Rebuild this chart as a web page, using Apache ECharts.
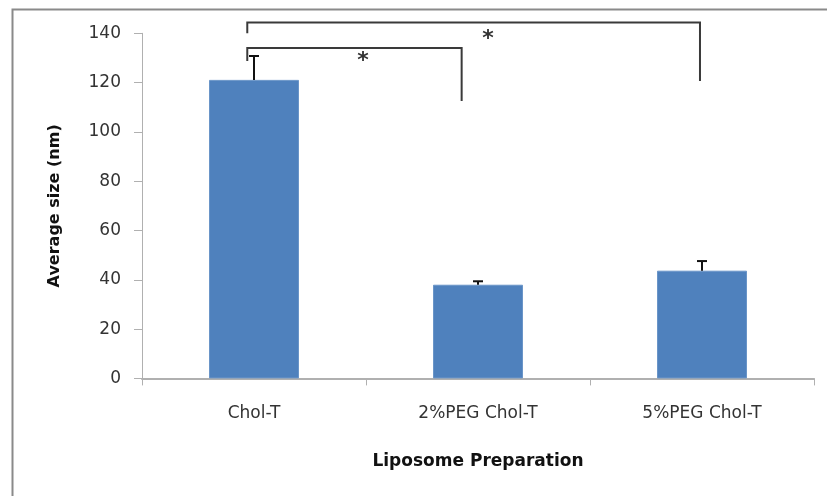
<!DOCTYPE html>
<html>
<head>
<meta charset="utf-8">
<script src="https://cdn.jsdelivr.net/npm/echarts@6/dist/echarts.min.js"></script>
<style>html,body{margin:0;padding:0;background:#fff;}#c{width:827px;height:496px;}</style>
</head>
<body>
<div id="c"></div>
<script>
// ---- data ----
const categories = ['Chol-T', '2%PEG Chol-T', '5%PEG Chol-T'];
const means = [121.1, 38.0, 43.7];
const errors = [9.7, 1.4, 3.9];
const yTicks = [0, 20, 40, 60, 80, 100, 120, 140];
// significance brackets (x in category units, y in nm)
const bracketX1 = [-0.03, -0.03];
const bracketX2 = [0.927, 1.991];
const bracketTop = [134.0, 144.4];
const bracketLeftEnd = [128.8, 140.0];
const bracketRightEnd = [112.5, 120.6];
const starX = [0.487, 1.045];
const starY = [128.5, 137.6];
const starText = ['*', '*'];

const chart = echarts.init(document.getElementById('c'), null, {renderer: 'canvas'});
const font = 'DejaVu Sans';
const option = {
  backgroundColor: '#ffffff',
  animation: false,
  grid: {left: 142, right: 13, top: 33.3, bottom: 117.6, containLabel: false},
  graphic: [{
    type: 'rect', left: 10, top: 7, z: -10,
    shape: {x: 0, y: 0, width: 900, height: 600},
    style: {fill: 'none', stroke: '#8a8a8a', lineWidth: 2}
  }],
  xAxis: [{
    type: 'category', data: categories,
    axisLine: {onZero: false, lineStyle: {color: '#b0b0b0', width: 2}},
    axisTick: {show: true, alignWithLabel: false, interval: 0, length: 7, lineStyle: {color: '#b0b0b0', width: 1}},
    axisLabel: {color: '#333', fontFamily: font, fontSize: 17, margin: 27, interval: 0},
    name: 'Liposome Preparation', nameLocation: 'middle', nameGap: 75,
    nameTextStyle: {color: '#111', fontFamily: font, fontSize: 17, fontWeight: 'bold'}
  }, {
    type: 'value', min: -0.5, max: 2.5, show: false
  }],
  yAxis: {
    type: 'value', min: 0, max: 140, interval: 20,
    axisLine: {show: true, onZero: false, lineStyle: {color: '#b0b0b0', width: 1}},
    axisTick: {show: true, length: 8, lineStyle: {color: '#b0b0b0'}},
    splitLine: {show: false},
    axisLabel: {color: '#333', fontFamily: font, fontSize: 17, margin: 21,
      formatter: v => yTicks.includes(v) ? String(v) : ''},
    name: 'Average size (nm)', nameLocation: 'middle', nameGap: 79,
    nameTextStyle: {color: '#111', fontFamily: font, fontSize: 16, fontWeight: 'bold'}
  },
  series: [{
    type: 'bar', data: means, barWidth: 90,
    itemStyle: {color: '#4f81bd', borderColor: '#6a95c8', borderWidth: 1}
  }, {
    type: 'custom', z: 5,
    data: means.map((m, i) => [i, m, m + errors[i]]),
    renderItem: function (params, api) {
      const p0 = api.coord([api.value(0), api.value(1)]);
      const p1 = api.coord([api.value(0), api.value(2)]);
      return {type: 'group', children: [
        {type: 'line', shape: {x1: p0[0], y1: p0[1], x2: p1[0], y2: p1[1]}, style: {stroke: '#111', lineWidth: 2}},
        {type: 'line', shape: {x1: p1[0] - 5, y1: p1[1], x2: p1[0] + 5, y2: p1[1]}, style: {stroke: '#111', lineWidth: 2}}
      ]};
    }
  }, {
    type: 'custom', xAxisIndex: 1, z: 5,
    data: bracketX1.map((x, i) => [x, bracketX2[i], bracketTop[i], bracketLeftEnd[i], bracketRightEnd[i]]),
    renderItem: function (params, api) {
      const a = api.coord([api.value(0), api.value(3)]);
      const b = api.coord([api.value(0), api.value(2)]);
      const c = api.coord([api.value(1), api.value(2)]);
      const d = api.coord([api.value(1), api.value(4)]);
      return {type: 'polyline', shape: {points: [a, b, c, d]},
        style: {stroke: '#3a3a3a', lineWidth: 2, fill: 'none'}};
    }
  }, {
    type: 'custom', xAxisIndex: 1, z: 5,
    data: starX.map((x, i) => [x, starY[i], i]),
    renderItem: function (params, api) {
      const p = api.coord([api.value(0), api.value(1)]);
      return {type: 'text', x: p[0], y: p[1],
        style: {text: starText[api.value(2)], fill: '#333', font: 'bold 22px "DejaVu Sans"',
          textAlign: 'center', textVerticalAlign: 'middle'}};
    }
  }]
};
chart.setOption(option);
</script>
</body>
</html>
